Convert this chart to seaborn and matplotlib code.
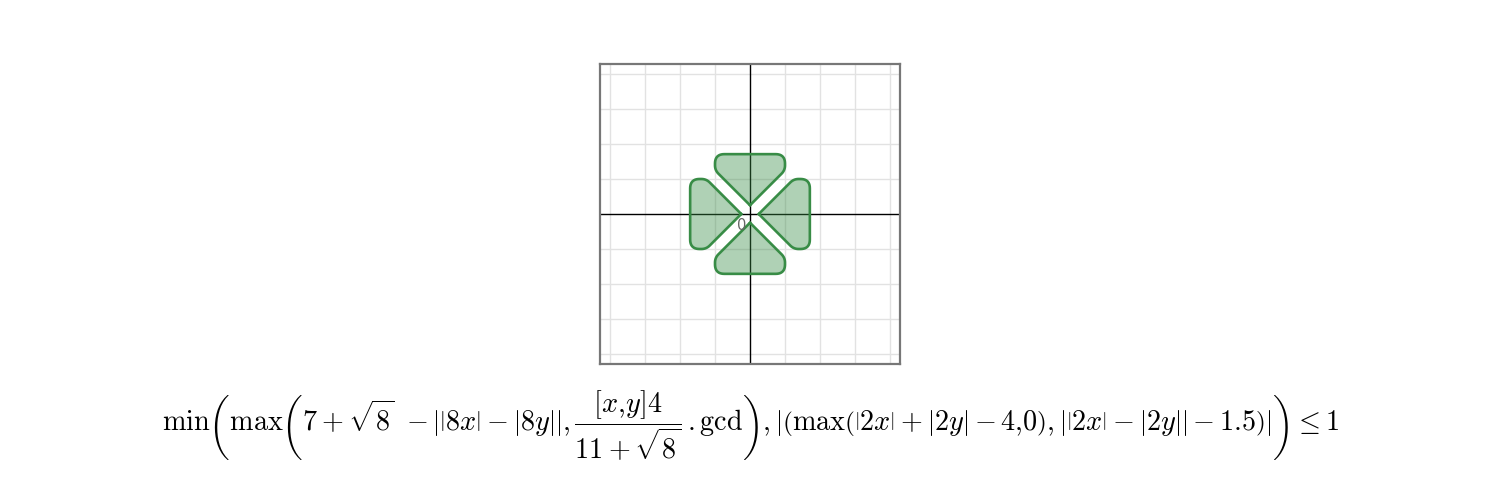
import numpy as np
import matplotlib
matplotlib.use("Agg")
import matplotlib.pyplot as plt
import seaborn as sns

# view window (graph units) and grid step
x_range = [-4.286, 4.286]
y_range = [-4.286, 4.286]
grid_ticks = [-4, -3, -2, -1, 1, 2, 3, 4]

# leaf outlines (tip, side corner, outer corner, outer corner, side corner)
top_leaf_x = [0.0, -1.0, -1.0, 1.0, 1.0]
top_leaf_y = [0.25, 1.25, 1.71, 1.71, 1.25]
bottom_leaf_x = [0.0, 1.0, 1.0, -1.0, -1.0]
bottom_leaf_y = [-0.25, -1.25, -1.71, -1.71, -1.25]
right_leaf_x = [0.25, 1.25, 1.71, 1.71, 1.25]
right_leaf_y = [0.0, 1.0, 1.0, -1.0, -1.0]
left_leaf_x = [-0.25, -1.25, -1.71, -1.71, -1.25]
left_leaf_y = [0.0, -1.0, -1.0, 1.0, 1.0]
corner_cut = [0.0, 0.14, 0.27, 0.27, 0.14]

leaves = [(top_leaf_x, top_leaf_y), (right_leaf_x, right_leaf_y),
          (bottom_leaf_x, bottom_leaf_y), (left_leaf_x, left_leaf_y)]

formula = (r'$\min\left(\max\left(7+\sqrt{8}\ -\left|\left|8x\right|-\left|8y\right|\right|,'
           r'\dfrac{[x{,}y]4}{11+\sqrt{8}}\,.\mathrm{gcd}\right),'
           r'\left|\left(\max\left(\left|2x\right|+\left|2y\right|-4{,}0\right),'
           r'\left|\left|2x\right|-\left|2y\right|\right|-1.5\right)\right|\right)\leq 1$')


def rounded(xs, ys, cuts, n=12):
    # replace each corner by a quadratic bezier between points cut along the edges
    pts = np.column_stack([xs, ys])
    k = len(pts)
    out = []
    for i in range(k):
        p, prev, nxt = pts[i], pts[i - 1], pts[(i + 1) % k]
        c = cuts[i]
        if c == 0:
            out.append(p)
            continue
        a = p + (prev - p) / np.linalg.norm(prev - p) * c
        b = p + (nxt - p) / np.linalg.norm(nxt - p) * c
        for t in np.linspace(0, 1, n):
            out.append((1 - t) ** 2 * a + 2 * (1 - t) * t * p + t ** 2 * b)
    out.append(out[0])
    return np.array(out)


sns.set_style("white")
green = "#388c46"

fig = plt.figure(figsize=(15, 5), dpi=100)
ax = fig.add_axes([0.4, 0.272, 0.2, 0.6])

for lx, ly in leaves:
    outline = rounded(lx, ly, corner_cut)
    ax.fill(outline[:, 0], outline[:, 1], color=green, alpha=0.4, lw=0, zorder=3)
    sns.lineplot(x=outline[:, 0], y=outline[:, 1], sort=False, estimator=None,
                 color=green, lw=1.9, ax=ax, zorder=4)

ax.set_xlim(x_range)
ax.set_ylim(y_range)
ax.set_xticks(grid_ticks)
ax.set_yticks(grid_ticks)
ax.grid(True, color="#e2e2e2", lw=1)
ax.tick_params(length=0, labelbottom=False, labelleft=False)
ax.axhline(0, color="black", lw=1, zorder=2)
ax.axvline(0, color="black", lw=1, zorder=2)
for s in ax.spines.values():
    s.set_color("#777777")
    s.set_linewidth(1.6)
ax.set_aspect("equal")
ax.text(-0.1, -0.12, "0", ha="right", va="top", fontsize=10.5, color="#666666",
        family="DejaVu Sans", zorder=5)

plt.rcParams['mathtext.fontset'] = 'cm'
fig.text(0.5, 0.148, formula, ha="center", va="center", fontsize=20.3, color="black")

fig.savefig("out.png", dpi=100)
